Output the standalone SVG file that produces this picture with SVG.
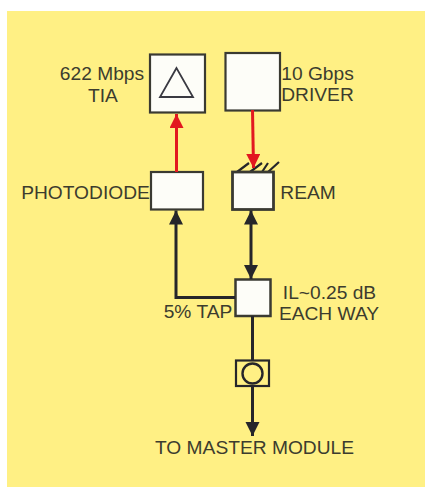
<svg xmlns="http://www.w3.org/2000/svg" width="425" height="487" viewBox="0 0 425 487">
<style>
.b{fill:#fdfdf8;stroke:#3a3a32;stroke-width:2.200}
.t{font-family:"Liberation Sans",Arial,sans-serif;font-size:19.200px;fill:#3c3c2e;text-anchor:middle}
.k{fill:none;stroke:#26262a;stroke-width:3}
.r{fill:none;stroke:#e2181f;stroke-width:3}
</style>
<defs>
<marker id="ak" markerUnits="userSpaceOnUse" markerWidth="15" markerHeight="15" refX="14" refY="7" orient="auto-start-reverse"><path d="M0,0L14,7L0,14Z" fill="#26262a"/></marker>
<marker id="ar" markerUnits="userSpaceOnUse" markerWidth="15" markerHeight="15" refX="14" refY="7" orient="auto-start-reverse"><path d="M0,0L14,7L0,14Z" fill="#e2181f"/></marker>
</defs>
<rect width="425" height="487" fill="#ffffff"/>
<rect x="7" y="11" width="418" height="476" fill="#fff084"/>
<g id="tia"><rect class="b" x="150" y="54.500" width="55" height="58"/><path d="M176.500 68L160 97H193Z" fill="none" stroke="#3a3a42" stroke-width="1.800"/>
<text class="t" x="102" y="80">622 Mbps</text><text class="t" x="103" y="102">TIA</text></g>
<g id="driver"><rect class="b" x="225.500" y="53" width="54.500" height="57.500"/>
<text class="t" x="317.500" y="80">10 Gbps</text><text class="t" x="317.500" y="101">DRIVER</text></g>
<g id="photodiode"><rect class="b" x="151" y="172" width="52" height="37.500"/>
<text class="t" x="85.500" y="198.500">PHOTODIODE</text></g>
<g id="ream"><path d="M237 172L249 163M250 172L262 163M262 172L268 163M268 172L279 162" stroke="#26262a" stroke-width="2.200" fill="none"/>
<rect class="b" x="232.500" y="172" width="41" height="37.500" style="stroke-width:2.800"/>
<text class="t" x="308" y="198.500">REAM</text></g>
<g id="tap"><rect class="b" x="235.500" y="279.500" width="35" height="36.500" style="stroke-width:2.500"/>
<text class="t" x="198" y="318">5% TAP</text><text class="t" x="329.500" y="298.500">IL~0.25 dB</text><text class="t" x="329" y="319.500">EACH WAY</text></g>
<g id="connector"><rect x="236" y="360.500" width="33" height="25.500" fill="none" stroke="#26262a" stroke-width="2.200"/><circle cx="252.500" cy="373.500" r="10" fill="none" stroke="#26262a" stroke-width="2.400"/></g>
<text id="master" class="t" x="254.500" y="454">TO MASTER MODULE</text>
<g id="connectors">
<path class="r" d="M176.500 172V114" marker-end="url(#ar)"/>
<path class="r" d="M252.500 110L253.500 168" marker-end="url(#ar)"/>
<path class="k" d="M235 297.500H176V210.500" marker-end="url(#ak)"/>
<path class="k" d="M251 279V210.500" marker-end="url(#ak)" marker-start="url(#ak)"/>
<path class="k" d="M252.500 316V360M252.500 387V436" marker-end="url(#ak)"/>
</g>
</svg>
